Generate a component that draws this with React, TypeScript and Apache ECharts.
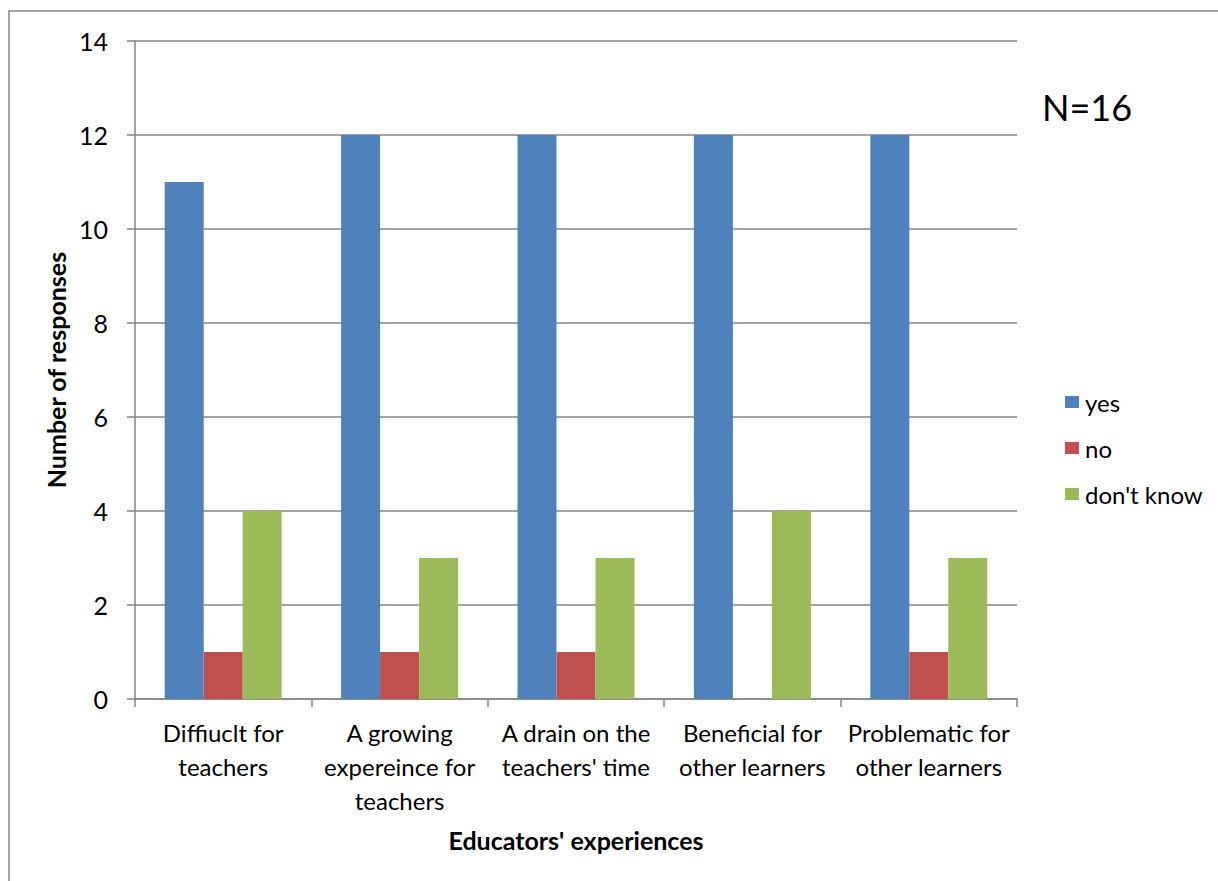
import React, { useEffect, useRef } from "react";
import * as echarts from "echarts";

const categories = [
  "Diffiuclt for\nteachers",
  "A growing\nexpereince for\nteachers",
  "A drain on the\nteachers' time",
  "Beneficial for\nother learners",
  "Problematic for\nother learners",
];
const yesValues = [11, 12, 12, 12, 12];
const noValues = [1, 1, 1, 0, 1];
const dontKnowValues = [4, 3, 3, 4, 3];
const seriesNames = ["yes", "no", "don't know"];
const colors = ["#4F81BD", "#C0504D", "#9BBB59"];

const FONT = "Lato, 'Open Sans', sans-serif";
const AXIS = "#868686";

export default function App() {
  const ref = useRef<HTMLDivElement>(null);
  useEffect(() => {
    if (!ref.current) return;
    const chart = echarts.init(ref.current, undefined, { renderer: "svg" });
    const dataSets = [yesValues, noValues, dontKnowValues];
    chart.setOption({
      animation: false,
      backgroundColor: "#ffffff",
      textStyle: { fontFamily: FONT },
      grid: { left: 135, right: 201, top: 41, bottom: 182 },
      legend: {
        orient: "vertical",
        left: 1060,
        top: 385,
        itemWidth: 14,
        itemHeight: 12,
        itemGap: 22,
        icon: "rect",
        textStyle: { fontFamily: FONT, fontSize: 24, color: "#000", padding: [0, 0, 0, 1] },
        data: seriesNames,
      },
      xAxis: {
        type: "category",
        data: categories,
        name: "Educators' experiences",
        nameLocation: "middle",
        nameGap: 128,
        nameTextStyle: { fontFamily: FONT, fontSize: 25, fontWeight: "bold", color: "#000" },
        axisLine: { lineStyle: { color: AXIS, width: 1.5 } },
        axisTick: { show: true, length: 8, lineStyle: { color: AXIS, width: 1.5 } },
        axisLabel: {
          interval: 0,
          margin: 16,
          fontFamily: FONT,
          fontSize: 24,
          lineHeight: 34,
          color: "#000",
        },
      },
      yAxis: {
        type: "value",
        min: 0,
        max: 14,
        interval: 2,
        name: "Number of responses",
        nameLocation: "middle",
        nameGap: 60,
        nameRotate: 90,
        nameTextStyle: { fontFamily: FONT, fontSize: 25, fontWeight: "bold", color: "#000" },
        axisLine: { show: true, lineStyle: { color: AXIS, width: 1.5 } },
        axisTick: { show: true, length: 8, lineStyle: { color: AXIS, width: 1.5 } },
        axisLabel: { margin: 27, fontFamily: FONT, fontSize: 25, color: "#000" },
        splitLine: { lineStyle: { color: AXIS, width: 1.5 } },
      },
      series: seriesNames.map((name, i) => ({
        name,
        type: "bar",
        data: dataSets[i],
        barWidth: 39,
        barGap: "0%",
        itemStyle: { color: colors[i] },
      })),
      graphic: [
        {
          type: "rect",
          shape: { x: 9, y: 11, width: 1300, height: 1000 },
          style: { fill: "none", stroke: AXIS, lineWidth: 1.5 },
          silent: true,
        },
        {
          type: "text",
          left: 1042,
          top: 89,
          style: { text: "N=16", fontFamily: FONT, fontSize: 36, fill: "#000" },
        },
      ],
    });
    return () => chart.dispose();
  }, []);
  return <div ref={ref} style={{ width: 1218, height: 881, position: "absolute", left: 0, top: 0 }} />;
}
